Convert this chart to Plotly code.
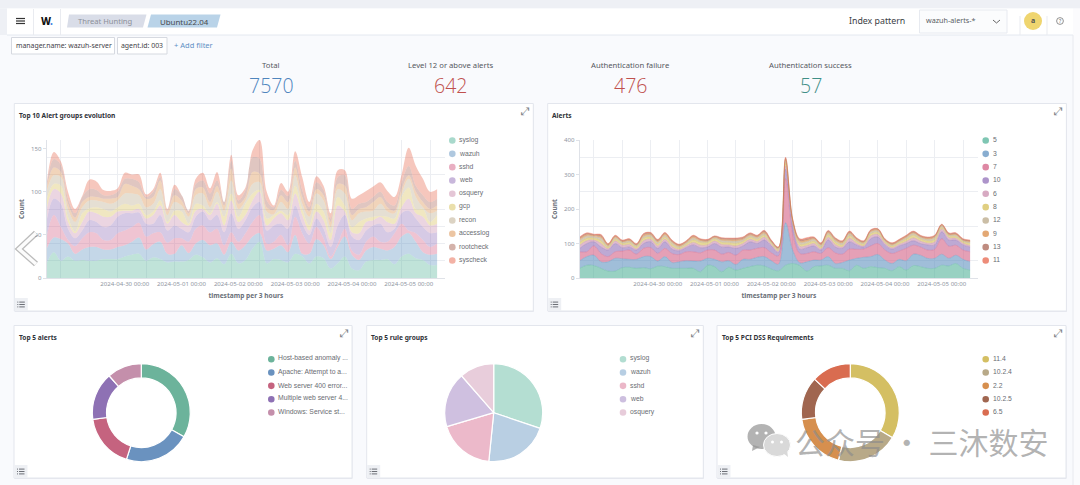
import numpy as np
import pandas as pd
import plotly.graph_objects as go

# ---------- data ----------
timestamps = pd.date_range("2024-04-28 15:00", periods=56, freq="3h").strftime("%Y-%m-%d %H:%M").tolist()
tick_dates = ["2024-04-30 00:00", "2024-05-01 00:00", "2024-05-02 00:00", "2024-05-03 00:00", "2024-05-04 00:00", "2024-05-05 00:00"]

group_names = ["syslog", "wazuh", "sshd", "web", "osquery", "gcp", "recon", "accesslog", "rootcheck", "syscheck"]
# cumulative upper edge of each band
g_syslog = [17,30,20,25,20,21,20,20,22,22,22,25,27,28,20,24,22,18,19,19,21,27,24,18,23,16,28,17,21,34,42,17,22,21,18,28,25,17,25,23,11,17,25,11,9,19,21,21,22,16,25,28,23,21,15,15]
g_wazuh = [34,47,45,40,28,33,36,36,33,33,36,38,42,47,33,39,42,28,28,38,29,40,44,38,40,27,42,32,38,48,52,32,34,38,30,50,28,28,45,38,22,36,48,27,21,32,36,34,32,36,48,52,42,30,27,28]
g_sshd = [48,73,59,44,37,46,53,52,44,44,52,55,59,64,48,52,53,41,46,46,42,57,61,53,57,38,53,42,52,65,73,40,42,50,38,71,52,40,59,46,25,40,57,32,27,42,48,42,42,52,63,55,52,44,36,40]
g_web = [67,92,86,57,46,55,67,65,59,61,71,75,75,76,63,63,73,55,61,57,53,71,77,67,73,53,75,57,67,82,88,55,61,63,57,84,63,50,69,57,36,61,73,48,44,55,61,63,53,57,75,78,69,59,52,53]
g_osquery = [80,103,98,65,52,65,77,75,71,71,77,78,78,80,69,73,84,63,73,65,61,78,80,73,86,61,90,65,73,90,100,61,69,75,67,98,73,55,77,67,44,84,77,53,52,65,67,71,65,63,82,92,75,71,61,63]
g_gcp = [92,109,107,71,54,75,81,82,80,77,82,86,84,86,73,77,90,65,78,77,63,86,84,75,88,71,98,71,86,98,102,69,73,78,73,107,80,61,86,77,52,94,84,59,65,69,71,72,71,69,94,105,80,80,65,73]
g_recon = [100,119,117,80,65,82,90,90,88,86,90,98,98,96,82,86,103,73,88,84,71,96,98,82,100,78,113,80,90,109,111,77,74,88,80,119,86,71,98,90,59,103,98,67,75,77,78,86,77,75,98,115,94,82,75,78]
g_accesslog = [105,128,123,86,70,88,94,94,92,92,94,109,107,103,92,94,113,77,96,90,75,103,105,88,107,84,127,86,94,123,121,82,79,96,88,128,94,77,103,96,65,109,107,73,80,82,88,94,82,78,103,119,100,88,80,84]
g_rootcheck = [108,138,131,92,75,94,103,102,96,96,100,115,115,111,94,100,117,78,103,96,77,109,113,98,113,88,136,90,102,140,138,90,82,102,95,136,102,82,111,102,69,117,119,80,86,88,94,100,88,84,111,130,107,96,88,92]
g_syscheck = [110,146,135,100,80,95,114,112,102,101,104,122,120,120,97,103,122,80,108,95,78,115,122,104,123,85,143,96,105,148,160,100,84,110,100,147,117,88,118,107,75,125,125,92,96,101,106,111,101,94,120,151,130,115,100,103]
group_tops = [g_syslog, g_wazuh, g_sshd, g_web, g_osquery, g_gcp, g_recon, g_accesslog, g_rootcheck, g_syscheck]

level_names = ["5", "3", "7", "10", "6", "8", "12", "9", "13", "11"]
l_5 = [28,37,36,28,20,20,30,31,28,30,27,34,33,28,28,28,28,18,37,33,18,31,23,28,33,37,35,26,21,37,42,36,20,33,35,37,28,28,21,37,28,33,30,28,21,33,23,36,33,28,28,37,35,42,28,23]
l_3 = [50,62,66,47,47,57,56,54,54,62,62,49,62,45,47,50,49,49,57,54,47,50,39,54,54,60,62,50,40,160,81,44,47,52,52,62,42,45,52,57,60,62,68,52,42,54,50,69,66,57,57,69,57,66,54,47]
l_7 = [76,76,93,71,62,76,78,81,69,86,88,71,86,71,68,76,76,73,81,81,69,74,66,81,81,86,88,73,64,288,129,71,71,76,71,88,73,69,84,83,84,93,100,81,71,78,86,95,90,81,83,114,92,95,81,76]
l_10 = [86,100,105,90,81,100,88,90,81,100,105,86,105,84,79,88,96,88,90,100,90,90,86,93,105,100,110,93,74,316,153,84,88,93,81,110,90,86,105,96,90,114,119,96,84,93,100,108,100,96,96,134,110,110,96,90]
l_6 = [95,108,110,100,85,107,95,97,85,108,112,93,112,91,83,93,103,95,96,107,97,96,93,100,112,106,118,97,78,325,158,92,94,100,85,118,97,90,115,101,93,122,126,101,88,98,106,116,107,101,104,142,117,115,101,94]
l_8 = [103,115,115,108,89,112,100,102,90,115,118,98,118,97,87,98,110,103,103,113,103,102,100,106,118,112,124,101,82,334,162,98,100,106,90,125,104,95,122,106,98,128,132,105,92,103,112,124,113,107,111,146,122,120,105,100]
l_12 = [110,122,120,116,93,117,104,107,94,120,124,104,124,103,91,102,116,107,106,117,109,108,107,111,123,117,129,104,85,340,166,104,106,112,95,130,109,101,128,110,102,133,137,108,96,106,117,129,118,112,117,150,125,125,108,104]
l_9 = [114,126,123,120,96,120,106,110,96,124,127,107,128,106,94,104,120,110,108,119,112,111,111,114,126,120,133,106,87,344,168,108,110,115,98,133,112,104,131,113,104,136,140,110,98,108,120,132,120,115,120,153,127,127,110,106]
l_13 = [116,129,125,123,98,122,108,112,98,127,130,110,130,108,96,106,122,112,110,121,115,114,114,117,129,122,136,108,89,347,170,111,113,117,100,136,115,106,134,115,106,138,142,112,100,110,122,134,122,117,122,155,129,129,112,108]
l_11 = [119,131,127,126,100,124,110,114,100,129,132,112,132,110,98,108,124,114,112,122,117,116,116,119,131,124,138,110,90,350,172,114,117,119,102,138,117,108,136,117,108,140,143,114,102,112,124,136,124,119,124,156,131,131,114,110]
level_tops = [l_5, l_3, l_7, l_10, l_6, l_8, l_12, l_9, l_13, l_11]

alert_names = ["Host-based anomaly ...", "Apache: Attempt to a...", "Web server 400 error...", "Multiple web server 4...", "Windows: Service st..."]
alert_values = [33.2, 21.7, 17.9, 15.8, 11.4]
rule_names = ["syslog", "wazuh", "sshd", "web", "osquery"]
rule_values = [30.2, 21.4, 18.8, 18.2, 11.4]
pci_names = ["11.4", "10.2.4", "2.2", "10.2.5", "6.5"]
pci_values = [33.5, 20.4, 18.9, 14.2, 13.0]

metric_labels = ["Total", "Level 12 or above alerts", "Authentication failure", "Authentication success"]
metric_values = ["7570", "642", "476", "57"]

palette = ["#54B399", "#6092C0", "#D36086", "#9170B8", "#CA8EAE", "#D6BF57", "#B9A888", "#DA8B45", "#AA6556", "#E7664C"]
solid = ["#6CB39B", "#6A92BF", "#C5637F", "#8E71B4", "#C48FAB", "#D4BF63", "#B8A988", "#D68F4E", "#A06650", "#D96C50"]

# ---------- helpers ----------
W, H = 1080, 485
def X(p): return p / W
def Y(p): return 1 - p / H
def rgba(c, a):
    return f"rgba({int(c[1:3],16)},{int(c[3:5],16)},{int(c[5:7],16)},{a})"

shapes, annos = [], []
def rect(x0, y0, x1, y1, fill, line=None, layer="below", lw=1):
    shapes.append(dict(type="rect", xref="paper", yref="paper", x0=X(x0), x1=X(x1), y0=Y(y1), y1=Y(y0),
                       fillcolor=fill, line=dict(color=line or "rgba(0,0,0,0)", width=lw if line else 0), layer=layer))
def hline(x0, y0, x1, y1, color, lw=1, layer="below"):
    shapes.append(dict(type="line", xref="paper", yref="paper", x0=X(x0), x1=X(x1), y0=Y(y0), y1=Y(y1),
                       line=dict(color=color, width=lw), layer=layer))
def circle(cx, cy, rx, ry, fill, layer="below", line=None, lw=0):
    shapes.append(dict(type="circle", xref="paper", yref="paper", x0=X(cx-rx), x1=X(cx+rx), y0=Y(cy+ry), y1=Y(cy-ry),
                       fillcolor=fill, line=dict(color=line or "rgba(0,0,0,0)", width=lw), layer=layer))
def poly(pts, fill, layer="below", line=None, lw=0, close=True):
    d = "M " + " L ".join(f"{X(a):.5f} {Y(b):.5f}" for a, b in pts) + (" Z" if close else "")
    shapes.append(dict(type="path", xref="paper", yref="paper", path=d, fillcolor=fill,
                       line=dict(color=line or "rgba(0,0,0,0)", width=lw), layer=layer))
def text(x, y, s, size=8, color="#444", anchor="center", font="Noto Sans", weight=None, angle=0):
    f = dict(size=size, color=color, family=font)
    if weight: f["weight"] = weight
    annos.append(dict(xref="paper", yref="paper", x=X(x), y=Y(y), text=s, showarrow=False, font=f,
                      xanchor=anchor, yanchor="middle", textangle=angle, borderpad=0, borderwidth=0))

# ---------- page chrome ----------
rect(0, 0, W, H, "#f9fafd")
rect(0, 0, W, 8.5, "#eef0f5")
rect(0, 8.5, 7, 35, "#eef0f5")
rect(7, 8.5, 1073, 35, "#ffffff")
hline(7, 35, 1073, 35, "#e4e8f0")
rect(1073, 8.5, W, H, "#fbfbfd")
hline(1073, 35, 1073, H, "#e8eaef")
for px_ in (33.5, 60.5):
    hline(px_, 9, px_, 35, "#e9ebf0")
for yy in (18.5, 21, 23.5):
    hline(16, yy, 25, yy, "#333", 1.2)
text(41, 21.5, "W", size=10, color="#111", anchor="left", weight=800)
text(50, 21.5, ".", size=10, color="#3d7fe0", anchor="left", weight=800)
poly([(69, 14.5), (146.5, 14.5), (143, 27.5), (67, 27.5)], "#d9dde8")
text(105.5, 21.5, "Threat Hunting", size=7.6, color="#8b8f98")
poly([(151, 14.5), (220.5, 14.5), (217, 27.5), (147.5, 27.5)], "#b9d3e8")
text(184, 22, "Ubuntu22.04", size=7.9, color="#46494f")
text(877, 21.5, "Index pattern", size=8.8, color="#3a3d44")
rect(919.5, 10, 1007, 33, "#fbfcfd", "#e7eaf0")
text(925.5, 20.5, "wazuh-alerts-*", size=7.2, color="#5a5d63", anchor="left")
poly([(993, 20), (996.5, 23), (1000, 20)], "rgba(0,0,0,0)", line="#666", lw=1, close=False)
hline(1020, 16, 1020, 35, "#e9ebf0")
hline(1047, 16, 1047, 35, "#e9ebf0")
circle(1033, 21, 9, 9, "#efd56f")
text(1033, 21, "a", size=7, color="#555", weight=700)
circle(1060, 21, 3.4, 3.4, "rgba(0,0,0,0)", line="#777", lw=0.8)
text(1060, 21, "?", size=5, color="#666")

rect(11.5, 37.5, 114.5, 54, "#ffffff", "#d6d9e0")
text(63.5, 45.5, "manager.name: wazuh-server", size=6.9, color="#3f4248")
rect(117.5, 37.5, 167, 54, "#ffffff", "#d6d9e0")
text(142, 45.5, "agent.id: 003", size=6.9, color="#3f4248")
text(193, 44.5, "+ Add filter", size=7.5, color="#5d8fc4")

metric_x = [270.5, 450, 630, 810]
metric_colors = ["#4f85bd", "#c0504d", "#c0504d", "#3f8f87"]
for mx, lab, val, col in zip(metric_x, metric_labels, metric_values, metric_colors):
    text(mx, 65.5, lab, size=7.7, color="#55585e")
    text(mx + 0.5, 85.5, val, size=19.5, color=col, font="Open Sans", weight=300)

# ---------- panels ----------
panels = [(14.3, 103.5, 533.3, 311, "Top 10 Alert groups evolution"),
          (547.7, 103.5, 1066.4, 311, "Alerts"),
          (14, 325.5, 352, 478, "Top 5 alerts"),
          (366.7, 325.5, 703.3, 478, "Top 5 rule groups"),
          (717, 325.5, 1066, 478, "Top 5 PCI DSS Requirements")]
for x0, y0, x1, y1, title in panels:
    rect(x0 + 0.5, y0 + 1, x1 + 0.5, y1 + 1, "#e6e8ee")
    rect(x0, y0, x1, y1, "#ffffff", "#e3e6ed")
    title_y = y0 + 11.5
    text(x0 + 4.5, title_y, title, size=6.6, color="#2f3238", anchor="left", weight=700)
    text(x1 - 7.5, y0 + 8, "\u2922", size=11, color="#7d8188", font="DejaVu Sans")
    rect(x0 + 0.5, y1 - 13, x0 + 13.5, y1, "#eef0f4")
    for k in (-2.4, 0, 2.4):
        hline(x0 + 5, y1 - 6.5 + k, x0 + 10.5, y1 - 6.5 + k, "#5c6068", 0.9)
        hline(x0 + 3, y1 - 6.5 + k, x0 + 4, y1 - 6.5 + k, "#5c6068", 0.9)

# ---------- area charts ----------
fig = go.Figure()
def add_stack(tops, names, ax, alpha, lw):
    prev = np.zeros(len(timestamps))
    for name, top, col in zip(names, tops, palette):
        top = np.asarray(top, float)
        vals = np.maximum(top - prev, 0)
        prev = top
        fig.add_trace(go.Scatter(x=timestamps, y=vals, name=name, stackgroup=ax, mode="lines",
                                 xaxis="x" if ax == "a" else "x2", yaxis="y" if ax == "a" else "y2",
                                 line=dict(shape="spline", smoothing=1.0, width=lw, color=rgba(col, min(alpha + 0.2, 1))),
                                 fillcolor=rgba(col, alpha), showlegend=False))
add_stack(group_tops, group_names, "a", 0.37, 0)
add_stack(level_tops, level_names, "b", 0.6, 0.4)

grid = "#eceef2"
tick_font = dict(size=6.1, color="#8f959f", family="Noto Sans")
title_font = dict(size=6.6, color="#6b7079", family="Noto Sans", weight=700)
def xaxis(left, right):
    return dict(domain=[X(left), X(right)], type="date",
                range=["2024-04-28 15:00", "2024-05-05 15:20"],
                tickmode="array", tickvals=tick_dates, ticktext=tick_dates, tickfont=tick_font,
                showgrid=False, ticks="", ticklen=0, showline=True, linecolor="#dfe2e8", linewidth=1,
                tickangle=0, automargin=False,
                minor=dict(tick0="2024-04-29 21:00", dtick=43200000, showgrid=True, gridcolor=grid, gridwidth=1, ticks=""),
                title=dict(text="timestamp per 3 hours", standoff=6, font=title_font))
def yaxis(top, dtick, minor):
    return dict(domain=[Y(278), Y(140)], range=[0, top], tick0=0, dtick=dtick, tickfont=tick_font,
                showgrid=False, ticks="outside", ticklen=3, tickcolor="#dfe2e8", showline=True,
                linecolor="#dfe2e8", zeroline=False, automargin=False,
                minor=dict(tick0=0, dtick=minor, showgrid=True, gridcolor=grid, gridwidth=1, ticks=""),
                title=dict(text="Count", standoff=5, font=title_font))

# ---------- pies ----------
R = 49
def add_pie(vals, names, cx, cy, hole, cols):
    fig.add_trace(go.Pie(values=vals, labels=names, sort=False, direction="clockwise", rotation=0, hole=hole,
                         marker=dict(colors=cols, line=dict(color="#ffffff", width=1.2)),
                         textinfo="none", showlegend=False,
                         domain=dict(x=[X(cx - R), X(cx + R)], y=[Y(cy + R), Y(cy - R)])))
add_pie(alert_values, alert_names, 141.3, 412.7, 0.71, solid[:5])
add_pie(rule_values, rule_names, 493.7, 412.7, 0, [rgba(c, 0.44) for c in palette[:5]])
add_pie(pci_values, pci_names, 850.3, 412.7, 0.71, solid[5:])

# ---------- legends ----------
def legend(cx, tx, y0, names, cols, size=6.8):
    for i, (n, c) in enumerate(zip(names, cols)):
        yy = y0 + i * 13.33
        circle(cx, yy + 0.5, 3.3, 3.3, c)
        text(tx, yy - 0.3, n, size=size, color="#6a6d73", anchor="left", font="Liberation Sans")
legend(452.3, 459, 140, group_names, [rgba(c, 0.5) for c in palette])
legend(985.7, 992.7, 140, level_names, [rgba(c, 0.75) for c in palette])
legend(271.3, 278, 358.7, alert_names, solid[:5])
legend(623, 629.7, 358.7, rule_names, [rgba(c, 0.45) for c in palette[:5]])
legend(985.7, 992.7, 358.7, pci_names, solid[5:])

# ---------- carousel arrow ----------
poly([(36, 233), (19, 249), (36, 264)], "rgba(0,0,0,0)", layer="above", line="rgba(120,120,120,0.5)", lw=6, close=False)
poly([(36, 233), (19, 249), (36, 264)], "rgba(0,0,0,0)", layer="above", line="rgba(255,255,255,0.95)", lw=3.5, close=False)

# ---------- watermark ----------
wm = "rgba(150,150,150,0.72)"
circle(761.5, 436.5, 14, 12.5, wm, layer="above")
poly([(753, 445), (752, 451), (760, 447)], wm, layer="above")
circle(777, 445, 13.5, 11.5, "#d9d9d9", layer="above", line="#ffffff", lw=1)
poly([(783, 453), (788, 457), (787, 450)], "#d9d9d9", layer="above")
for ex, ey, er in [(757, 433, 1.6), (766, 433, 1.6), (772.5, 442, 1.5), (781.5, 442, 1.5)]:
    circle(ex, ey, er, er, "#ffffff", layer="above")
text(921.5, 440.5, "公众号 · 三沐数安", size=30, color="rgba(140,140,140,0.66)", font="Noto Sans CJK SC")

fig.update_layout(width=W, height=H, autosize=False, margin=dict(l=0, r=0, t=0, b=0, pad=0),
                  paper_bgcolor="#f9fafd", plot_bgcolor="rgba(0,0,0,0)", hovermode=False,
                  shapes=shapes, annotations=annos, showlegend=False,
                  xaxis=xaxis(46.7, 445), yaxis=yaxis(160, 50, 20),
                  xaxis2=dict(xaxis(579.7, 978), anchor="y2"),
                  yaxis2=dict(yaxis(400, 100, 50), anchor="x2"))

fig.write_html("out.html", config=dict(displayModeBar=False),
               post_script="document.body.style.margin='0';document.documentElement.style.overflow='hidden';")
